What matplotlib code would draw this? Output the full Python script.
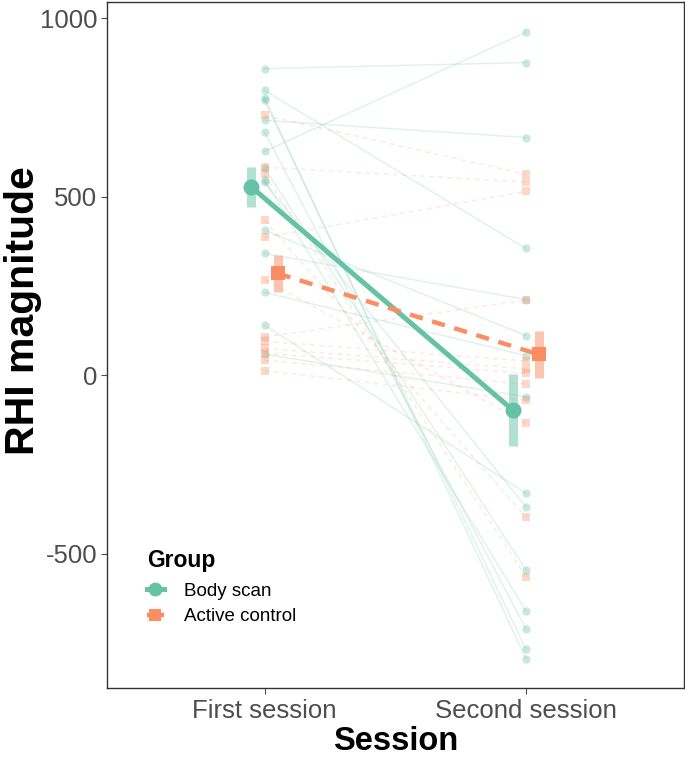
import numpy as np
import matplotlib
matplotlib.use("Agg")
import matplotlib.pyplot as plt
from matplotlib.lines import Line2D

plt.rcParams['font.family'] = ['Liberation Sans', 'DejaVu Sans']
plt.rcParams['axes.unicode_minus'] = False

sessions = ["First session", "Second session"]
groups = ["Body scan", "Active control"]
colors = {"Body scan": "#66C2A5", "Active control": "#FC8D62"}

# individual participants (first session, second session)
body_first = [859, 627, 714, 798, 406, 341, 232, 59, 777, 770, 681, 580, 546, 541, 140]
body_second = [876, 961, 666, 355, 111, 212, 55, -61, -795, -768, -711, -546, -661, -369, -331]
ctrl_first = [728, 583, 386, 107, 563, 434, 268, 95, 75, 62, 42, 12]
ctrl_second = [563, 541, 515, 210, -565, -397, -135, 40, 18, 5, -25, -70]

# group means and standard errors
body_mean = [527, -98]
body_se = [55, 101]
ctrl_mean = [285, 58]
ctrl_se = [53, 65]

fig = plt.figure(figsize=(6.85, 7.57), dpi=100)
ax = fig.add_axes([0.156, 0.091, 0.842, 0.906])

x = np.array([1, 2])
dodge = 0.05

# individual lines
for a, b in zip(body_first, body_second):
    ax.plot(x, [a, b], color=colors["Body scan"], alpha=0.2, lw=1.1, zorder=1)
    ax.plot(x, [a, b], 'o', color=colors["Body scan"], alpha=0.35, ms=6, mew=0, zorder=2)
for a, b in zip(ctrl_first, ctrl_second):
    ax.plot(x, [a, b], color=colors["Active control"], alpha=0.2, lw=1.1, ls=(0, (3, 3)), zorder=1)
    ax.plot(x, [a, b], 's', color=colors["Active control"], alpha=0.35, ms=5.5, mew=0, zorder=2)

# means with error bars
xb = x - dodge
xc = x + dodge
ax.vlines(xb, np.array(body_mean) - body_se, np.array(body_mean) + body_se,
          color=colors["Body scan"], alpha=0.5, lw=6.5, zorder=3)
ax.vlines(xc, np.array(ctrl_mean) - ctrl_se, np.array(ctrl_mean) + ctrl_se,
          color=colors["Active control"], alpha=0.5, lw=6.5, zorder=3)
ax.plot(xb, body_mean, '-', color=colors["Body scan"], lw=3.6, zorder=4)
ax.plot(xb, body_mean, 'o', color=colors["Body scan"], ms=11.5, mew=0, zorder=5)
ax.plot(xc, ctrl_mean, '-', color=colors["Active control"], lw=3.2, ls=(0, (3, 2.2)), zorder=4)
ax.plot(xc, ctrl_mean, 's', color=colors["Active control"], ms=10, mew=0, zorder=5)

ax.set_xlim(0.397, 2.603)
ax.set_ylim(-877, 1045)
ax.set_xticks(x)
ax.set_xticklabels(sessions)
ax.set_yticks([-500, 0, 500, 1000])
ax.tick_params(axis='both', colors='#4D4D4D', labelsize=18.5, length=4, width=0.8)
ax.tick_params(axis='x', pad=4)
ax.tick_params(axis='y', pad=3)
for s in ax.spines.values():
    s.set_color('#333333')
    s.set_linewidth(1.0)

ax.set_xlabel("Session", fontsize=23.5, fontweight='bold', labelpad=2)
ax.set_ylabel("RHI magnitude", fontsize=29.5, fontweight='bold')
ax.yaxis.set_label_coords(-0.112, 0.551)

handles = [
    Line2D([0], [0], color=colors["Body scan"], lw=3.6, marker='o', ms=10, mew=0),
    Line2D([0], [0], color=colors["Active control"], lw=3.2, marker='s', ms=9, mew=0,
           ls=(0, (1.5, 1))),
]
leg = ax.legend(handles, groups, title="Group", loc='upper left',
                bbox_to_anchor=(0.04, 0.228), frameon=False, fontsize=13.5,
                title_fontproperties={'weight': 'bold', 'size': 16.5},
                handlelength=0.9, handletextpad=1.1, labelspacing=0.45,
                alignment='left')
leg._legend_box.sep = 8

fig.savefig("out.png", dpi=100)
